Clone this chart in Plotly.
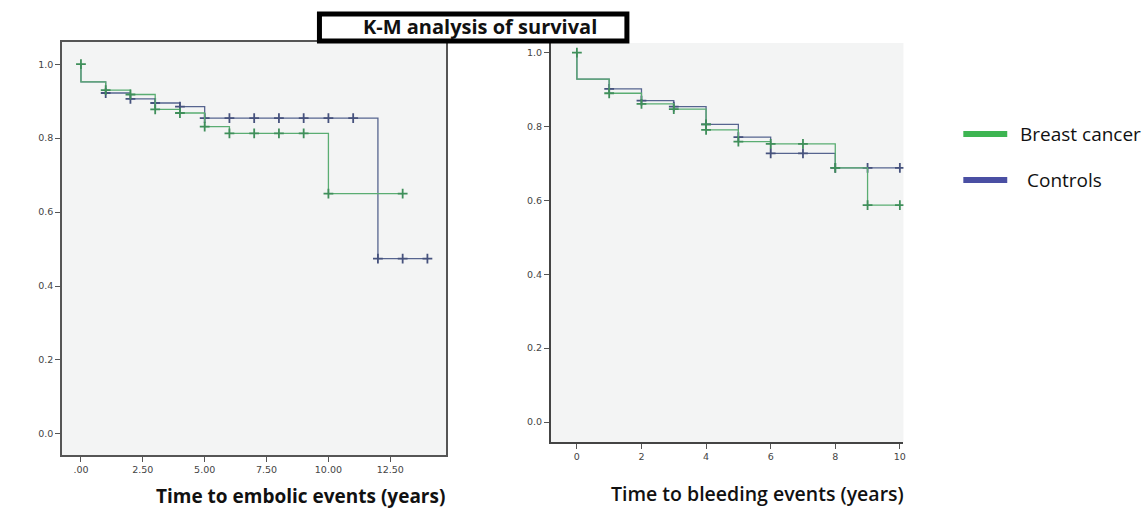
import plotly.graph_objects as go

# ---- Embolic events ----
emb_bc_t = [0, 0, 1, 2, 3, 4, 5, 6, 10, 13]
emb_bc_s = [1.0, 0.952, 0.930, 0.918, 0.878, 0.868, 0.831, 0.813, 0.650, 0.650]
emb_ct_t = [0, 0, 1, 2, 3, 4, 5, 12, 14]
emb_ct_s = [1.0, 0.952, 0.922, 0.906, 0.895, 0.885, 0.854, 0.474, 0.474]
emb_bc_cens_t = [0, 1, 2, 3, 4, 5, 6, 7, 8, 9, 10, 13]
emb_bc_cens_s = [1.0, 0.930, 0.918, 0.878, 0.868, 0.831, 0.813, 0.813, 0.813, 0.813, 0.650, 0.650]
emb_ct_cens_t = [1, 2, 3, 4, 5, 6, 7, 8, 9, 10, 11, 12, 13, 14]
emb_ct_cens_s = [0.922, 0.906, 0.895, 0.885, 0.854, 0.854, 0.854, 0.854, 0.854, 0.854, 0.854,
                 0.474, 0.474, 0.474]

# ---- Bleeding events ----
ble_bc_t = [0, 0, 1, 2, 3, 4, 5, 6, 8, 9, 10]
ble_bc_s = [1.0, 0.928, 0.890, 0.861, 0.847, 0.791, 0.759, 0.753, 0.688, 0.587, 0.587]
ble_ct_t = [0, 0, 1, 2, 3, 4, 5, 6, 8, 10]
ble_ct_s = [1.0, 0.928, 0.902, 0.870, 0.854, 0.806, 0.771, 0.727, 0.688, 0.688]
ble_bc_cens_t = [0, 1, 2, 3, 4, 4, 5, 6, 7, 8, 9, 10]
ble_bc_cens_s = [1.0, 0.890, 0.861, 0.847, 0.806, 0.791, 0.759, 0.753, 0.753, 0.688, 0.587, 0.587]
ble_ct_cens_t = [1, 2, 3, 4, 5, 6, 7, 8, 9, 10]
ble_ct_cens_s = [0.902, 0.870, 0.854, 0.806, 0.771, 0.727, 0.727, 0.688, 0.688, 0.688]

emb_xticks = [0, 2.5, 5, 7.5, 10, 12.5]
emb_xlabels = [".00", "2.50", "5.00", "7.50", "10.00", "12.50"]
ble_xticks = [0, 2, 4, 6, 8, 10]
ble_xlabels = ["0", "2", "4", "6", "8", "10"]
yticks = [0.0, 0.2, 0.4, 0.6, 0.8, 1.0]
ylabels = ["0.0", "0.2", "0.4", "0.6", "0.8", "1.0"]

series_names = ["Breast cancer", "Controls"]

GREEN_LINE = "#5aad72"
GREEN_MARK = "#3f8f5a"
BLUE_LINE = "#56648f"
BLUE_MARK = "#46527d"
GREEN_KEY = "#3db552"
BLUE_KEY = "#4a4fa3"

W, H = 1148, 510


def px_x(p):
    return p / W


def px_y(p):
    return 1 - p / H


fig = go.Figure()


def add_curve(t, s, ct, cs, color, mcolor, xa, ya):
    fig.add_trace(go.Scatter(x=t, y=s, mode="lines", line=dict(color=color, width=1.3, shape="hv"),
                             xaxis=xa, yaxis=ya, showlegend=False, hoverinfo="skip"))
    fig.add_trace(go.Scatter(x=ct, y=cs, mode="markers",
                             marker=dict(symbol="cross-thin", size=7, line=dict(color=mcolor, width=1.8)),
                             xaxis=xa, yaxis=ya, showlegend=False, hoverinfo="skip"))


add_curve(emb_ct_t, emb_ct_s, emb_ct_cens_t, emb_ct_cens_s, BLUE_LINE, BLUE_MARK, "x", "y")
add_curve(emb_bc_t, emb_bc_s, emb_bc_cens_t, emb_bc_cens_s, GREEN_LINE, GREEN_MARK, "x", "y")
add_curve(ble_ct_t, ble_ct_s, ble_ct_cens_t, ble_ct_cens_s, BLUE_LINE, BLUE_MARK, "x2", "y2")
add_curve(ble_bc_t, ble_bc_s, ble_bc_cens_t, ble_bc_cens_s, GREEN_LINE, GREEN_MARK, "x2", "y2")

tickfont = dict(family="DejaVu Sans", size=9.5, color="#444")

fig.update_layout(
    width=W, height=H,
    margin=dict(l=0, r=0, t=0, b=0),
    paper_bgcolor="white",
    plot_bgcolor="#f3f4f4",
    showlegend=False,
    xaxis=dict(domain=[px_x(62), px_x(447)], range=[-0.77, 14.76], tickvals=emb_xticks,
               ticktext=emb_xlabels, ticks="outside", ticklen=5, tickcolor="#555",
               showgrid=False, zeroline=False, showline=True, linecolor="#555", linewidth=1.5,
               mirror=True, tickfont=tickfont, anchor="y"),
    yaxis=dict(domain=[px_y(455), px_y(42)], range=[-0.057, 1.06], tickvals=yticks,
               ticktext=ylabels, ticks="outside", ticklen=5, tickcolor="#555",
               showgrid=False, zeroline=False, showline=True, linecolor="#555", linewidth=1.5,
               mirror=True, tickfont=tickfont, anchor="x"),
    xaxis2=dict(domain=[px_x(552), px_x(905)], range=[-0.80, 10.11], tickvals=ble_xticks,
                ticktext=ble_xlabels, ticks="outside", ticklen=5, tickcolor="#555",
                showgrid=False, zeroline=False, showline=True, linecolor="#444", linewidth=2,
                tickfont=tickfont, anchor="y2"),
    yaxis2=dict(domain=[px_y(442), px_y(43)], range=[-0.054, 1.026], tickvals=yticks,
                ticktext=ylabels, ticks="outside", ticklen=5, tickcolor="#555",
                showgrid=False, zeroline=False, showline=True, linecolor="#444", linewidth=2,
                tickfont=tickfont, anchor="x2"),
)


def label(x, y, text, size, weight="normal", xanchor="center"):
    fig.add_annotation(x=px_x(x), y=px_y(y), xref="paper", yref="paper", text=text,
                       xanchor=xanchor, yanchor="middle", showarrow=False,
                       font=dict(family="Open Sans", size=size, color="#111", weight=weight))


# title box
fig.add_shape(type="rect", xref="paper", yref="paper",
              x0=px_x(320), x1=px_x(628), y0=px_y(41), y1=px_y(14),
              line=dict(color="black", width=5), fillcolor="white", layer="above")
label(481, 26, "K-M analysis of survival", 20, weight="bold")

# axis titles
label(301, 496, "Time to embolic events (years)", 19, weight="bold")
label(759, 493, "Time to bleeding events (years)", 19.5, weight=600)

# legend keys
for yk, col, name, xt in [(134, GREEN_KEY, series_names[0], 1020), (180, BLUE_KEY, series_names[1], 1027)]:
    fig.add_shape(type="line", xref="paper", yref="paper", x0=px_x(965), x1=px_x(1009),
                  y0=px_y(yk), y1=px_y(yk), line=dict(color=col, width=6))
    label(xt, yk, name, 19, xanchor="left")

fig.write_html("out.html")
